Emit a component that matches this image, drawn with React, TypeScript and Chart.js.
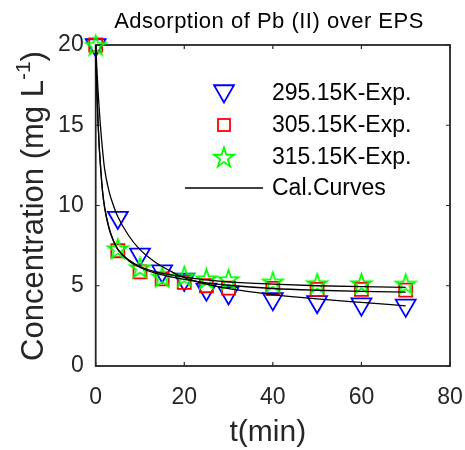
import React, { useEffect, useRef } from "react";
import { Chart, registerables } from "chart.js";

Chart.register(...registerables);

// ---- data ----
const times = [0, 5, 10, 15, 20, 25, 30, 40, 50, 60, 70];
const exp295 = [20, 9.25, 6.95, 5.91, 5.39, 4.78, 4.55, 4.18, 4.0, 3.85, 3.78];
const exp305 = [20, 7.18, 5.87, 5.43, 5.21, 5.0, 4.85, 4.83, 4.77, 4.77, 4.73];
const exp315 = [20, 7.32, 6.14, 5.56, 5.6, 5.45, 5.4, 5.25, 5.15, 5.15, 5.12];

const curveT = [0, 0.25, 0.5, 0.75, 1, 1.5, 2, 3, 4, 5, 7.5, 10, 13.3, 17, 20, 25, 30, 40, 50, 60, 70];
const cal295 = [20, 18.6, 17.3, 16.2, 15.2, 13.6, 12.3, 10.9, 10.0, 9.3, 8.1, 7.25, 6.5, 5.9, 5.5, 5.1, 4.82, 4.45, 4.18, 3.96, 3.75];
const cal305 = [20, 17.3, 15.4, 13.9, 12.8, 11.0, 9.9, 8.6, 7.8, 7.25, 6.55, 6.15, 5.8, 5.56, 5.4, 5.18, 5.03, 4.83, 4.72, 4.65, 4.6];
const cal315 = [20, 17.3, 15.4, 13.9, 12.8, 11.0, 9.9, 8.6, 7.8, 7.27, 6.6, 6.2, 5.88, 5.68, 5.55, 5.36, 5.24, 5.1, 5.0, 4.94, 4.9];

const legendLabels = ["295.15K-Exp.", "305.15K-Exp.", "315.15K-Exp.", "Cal.Curves"];
const xTicks = [0, 20, 40, 60, 80];
const yTicks = [0, 5, 10, 15, 20];

const FONT = "'Liberation Sans', Arial, Helvetica, sans-serif";
const AXIS = "#262626";
const MLW = 1.8;

function makeStar(color: string, outer: number, lw: number): HTMLCanvasElement {
  const size = Math.ceil(outer * 2 + lw * 2 + 2);
  const c = document.createElement("canvas");
  c.width = size;
  c.height = size;
  const ctx = c.getContext("2d")!;
  drawStar(ctx, size / 2, size / 2 + outer * 0.1, outer, color, lw);
  return c;
}

function drawStar(ctx: CanvasRenderingContext2D, cx: number, cy: number, outer: number, color: string, lw: number) {
  const inner = outer * 0.382;
  ctx.save();
  ctx.beginPath();
  for (let i = 0; i < 10; i++) {
    const r = i % 2 === 0 ? outer : inner;
    const a = -Math.PI / 2 + (i * Math.PI) / 5;
    const px = cx + r * Math.cos(a);
    const py = cy + r * Math.sin(a);
    if (i === 0) ctx.moveTo(px, py);
    else ctx.lineTo(px, py);
  }
  ctx.closePath();
  ctx.strokeStyle = color;
  ctx.lineWidth = lw;
  ctx.lineJoin = "miter";
  ctx.stroke();
  ctx.restore();
}

function drawDownTri(ctx: CanvasRenderingContext2D, cx: number, cy: number, r: number, color: string, lw: number) {
  ctx.save();
  ctx.beginPath();
  for (let i = 0; i < 3; i++) {
    const a = Math.PI / 2 + (i * 2 * Math.PI) / 3;
    const px = cx + r * Math.cos(a);
    const py = cy + r * Math.sin(a);
    if (i === 0) ctx.moveTo(px, py);
    else ctx.lineTo(px, py);
  }
  ctx.closePath();
  ctx.strokeStyle = color;
  ctx.lineWidth = lw;
  ctx.stroke();
  ctx.restore();
}

const decorPlugin = {
  id: "decor",
  beforeDatasetsDraw(chart: any) {
    const { ctx, chartArea: a, scales } = chart;
    ctx.save();
    ctx.strokeStyle = AXIS;
    ctx.lineWidth = 1.8;
    ctx.strokeRect(a.left, a.top, a.right - a.left, a.bottom - a.top);
    const tl = 4;
    ctx.lineWidth = 1.2;
    ctx.beginPath();
    xTicks.forEach((v) => {
      const x = scales.x.getPixelForValue(v);
      ctx.moveTo(x, a.bottom);
      ctx.lineTo(x, a.bottom - tl);
      ctx.moveTo(x, a.top);
      ctx.lineTo(x, a.top + tl);
    });
    yTicks.forEach((v) => {
      const y = scales.y.getPixelForValue(v);
      ctx.moveTo(a.left, y);
      ctx.lineTo(a.left + tl, y);
      ctx.moveTo(a.right, y);
      ctx.lineTo(a.right - tl, y);
    });
    ctx.stroke();
    ctx.restore();
  },
  afterDraw(chart: any) {
    const { ctx, chartArea: a } = chart;
    ctx.save();
    // title
    ctx.fillStyle = "#000";
    ctx.font = `22px ${FONT}`;
    (ctx as any).letterSpacing = "0.5px";
    ctx.textAlign = "center";
    ctx.textBaseline = "middle";
    ctx.fillText("Adsorption of Pb (II) over EPS", 269, 22);
    (ctx as any).letterSpacing = "0px";

    // x label
    ctx.fillStyle = AXIS;
    ctx.font = `30px ${FONT}`;
    ctx.fillText("t(min)", (a.left + a.right) / 2 - 5, 433);

    // y label with superscript
    ctx.save();
    ctx.translate(32, 206);
    ctx.rotate(-Math.PI / 2);
    const big = `31px ${FONT}`;
    const small = `21px ${FONT}`;
    const p1 = "Concentration (mg L";
    const p2 = "-1";
    const p3 = ")";
    ctx.font = big;
    const w1 = ctx.measureText(p1).width;
    const w3 = ctx.measureText(p3).width;
    ctx.font = small;
    const w2 = ctx.measureText(p2).width;
    const total = w1 + w2 + w3;
    const x0 = -total / 2;
    ctx.textAlign = "left";
    ctx.textBaseline = "alphabetic";
    ctx.font = big;
    ctx.fillText(p1, x0, 11);
    ctx.font = small;
    ctx.fillText(p2, x0 + w1, -2);
    ctx.font = big;
    ctx.fillText(p3, x0 + w1 + w2, 11);
    ctx.restore();

    // legend
    const rows = [93, 125, 157, 188];
    const mx = 224;
    const tx = 272;
    drawDownTri(ctx, mx, rows[0] - 2, 11.5, "#0000ff", MLW);
    ctx.save();
    ctx.strokeStyle = "#ff0000";
    ctx.lineWidth = MLW;
    ctx.strokeRect(mx - 6, rows[1] - 6, 12, 12);
    ctx.restore();
    drawStar(ctx, mx, rows[2] + 1, 10.5, "#00ff00", MLW);
    ctx.save();
    ctx.strokeStyle = "#000";
    ctx.lineWidth = 1.3;
    ctx.beginPath();
    ctx.moveTo(185, rows[3]);
    ctx.lineTo(263, rows[3]);
    ctx.stroke();
    ctx.restore();
    ctx.fillStyle = "#000";
    ctx.font = `23px ${FONT}`;
    ctx.textAlign = "left";
    ctx.textBaseline = "middle";
    legendLabels.forEach((l, i) => ctx.fillText(l, tx, rows[i] + 1));
    ctx.restore();
  },
};

export default function App() {
  const ref = useRef<HTMLCanvasElement | null>(null);
  useEffect(() => {
    if (!ref.current) return;
    const star = makeStar("#00ff00", 10.5, MLW);
    const curve = (ys: number[]) => curveT.map((t, i) => ({ x: t, y: ys[i] }));
    const pts = (ys: number[]) => times.map((t, i) => ({ x: t, y: ys[i] }));
    const lineDs = (ys: number[]) => ({
      data: curve(ys),
      showLine: true,
      borderColor: "#000",
      borderWidth: 1.3,
      pointRadius: 0,
      cubicInterpolationMode: "monotone" as const,
      order: 0,
      clip: false as any,
    });
    const chart = new Chart(ref.current, {
      type: "scatter",
      data: {
        datasets: [
          lineDs(cal295),
          lineDs(cal305),
          lineDs(cal315),
          {
            data: pts(exp315),
            pointStyle: star as any,
            pointRadius: 10,
            order: 1,
            clip: false as any,
          },
          {
            data: pts(exp305),
            pointStyle: "rect",
            pointRadius: 9.2,
            borderColor: "#ff0000",
            backgroundColor: "rgba(0,0,0,0)",
            borderWidth: MLW,
            order: 2,
            clip: false as any,
          },
          {
            data: pts(exp295),
            pointStyle: "triangle",
            rotation: 180,
            pointRadius: 11.5,
            borderColor: "#0000ff",
            backgroundColor: "rgba(0,0,0,0)",
            borderWidth: MLW,
            order: 3,
            clip: false as any,
          },
        ],
      },
      options: {
        responsive: false,
        animation: false,
        devicePixelRatio: 1,
        layout: { padding: { top: 45, right: 15, left: 0, bottom: 0 } },
        plugins: { legend: { display: false }, tooltip: { enabled: false }, title: { display: false } },
        scales: {
          x: {
            type: "linear",
            min: 0,
            max: 80,
            afterFit: (s: any) => {
              s.height = 84;
              s.paddingLeft = 0;
              s.paddingRight = 0;
            },
            afterBuildTicks: (s: any) => {
              s.ticks = xTicks.map((v) => ({ value: v }));
            },
            grid: { display: false, drawTicks: false },
            border: { display: false },
            ticks: { color: AXIS, font: { family: FONT, size: 23 }, padding: 18, maxRotation: 0 },
          },
          y: {
            type: "linear",
            min: 0,
            max: 20,
            afterFit: (s: any) => {
              s.width = 95.7;
              s.paddingTop = 0;
              s.paddingBottom = 0;
            },
            afterBuildTicks: (s: any) => {
              s.ticks = yTicks.map((v) => ({ value: v }));
            },
            grid: { display: false, drawTicks: false },
            border: { display: false },
            ticks: { color: AXIS, font: { family: FONT, size: 23 }, padding: 12 },
          },
        },
      },
      plugins: [decorPlugin],
    });
    return () => chart.destroy();
  }, []);
  return (
    <div style={{ position: "fixed", left: 0, top: 0, width: 465, height: 450, background: "#fff" }}>
      <canvas ref={ref} width={465} height={450} style={{ width: 465, height: 450, display: "block" }} />
    </div>
  );
}
